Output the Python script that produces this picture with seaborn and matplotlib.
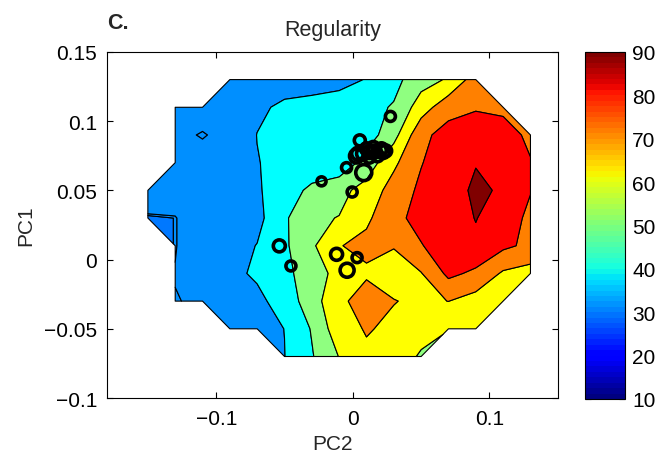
import numpy as np
import matplotlib
matplotlib.use("Agg")
import matplotlib.pyplot as plt
import seaborn as sns
from matplotlib.colors import Normalize
from matplotlib.cm import ScalarMappable
from matplotlib.ticker import FuncFormatter

# --- grid of the smoothed map (PC2 across, PC1 up) ---
pc2_grid = [-0.15, -0.13, -0.11, -0.09, -0.07, -0.05, -0.03, -0.01,
            0.01, 0.03, 0.05, 0.07, 0.09, 0.11, 0.13]
pc1_grid = [-0.07, -0.05, -0.03, -0.01, 0.01, 0.03, 0.05, 0.07, 0.09, 0.11, 0.13]

nan = np.nan
# one row per PC1 value, bottom to top; nan = outside the sampled area
regularity = [
    [nan, nan, nan, nan, nan, 39.8, 49.2, 60.3, 68.3, 69.0, 58.0, nan, nan, nan, nan],
    [nan, nan, nan, 33.0, 36.0, 40.1, 50.7, 66.2, 70.7, 68.2, 66.0, 60.5, 63.0, nan, nan],
    [nan, 29.2, 30.5, 36.0, 38.0, 43.5, 56.0, 67.0, 76.0, 70.3, 68.4, 70.1, 65.9, 64.0, nan],
    [nan, 29.8, 34.0, 38.0, 41.2, 48.0, 53.9, 64.1, 68.2, 66.0, 69.5, 82.25, 78.0, 68.6, 66.0],
    [nan, 29.05, 36.0, 36.0, 40.3, 48.3, 58.4, 69.5, 73.0, 70.5, 79.6, 84.0, 87.9, 82.0, 77.8],
    [28.3, 29.05, 36.0, 35.5, 37.0, 48.5, 58.5, 60.3, 68.0, 78.0, 82.4, 84.0, 90.4, 84.0, 78.3],
    [36.0, 35.0, 34.0, 36.0, 39.0, 44.5, 52.5, 57.0, 63.7, 74.2, 81.9, 87.0, 91.2, 89.2, 80.3],
    [nan, 30.5, 32.0, 35.0, 39.6, 43.0, 42.5, 42.5, 54.2, 68.0, 79.5, 86.0, 89.7, 86.0, 80.5],
    [nan, 31.0, 29.05, 31.5, 40.2, 42.0, 43.0, 44.0, 45.0, 56.4, 77.7, 83.5, 86.0, 84.0, 78.0],
    [nan, 32.0, 32.5, 34.0, 38.0, 42.0, 43.0, 44.5, 47.0, 50.8, 65.0, 76.6, 79.0, 78.0, nan],
    [nan, nan, nan, 33.0, 34.0, 35.0, 36.0, 37.0, 40.4, 47.0, 56.0, 61.0, 75.0, nan, nan],
]

# --- individual samples (circles) ---
pc2_pts = [0.0275, 0.0051, 0.0027, 0.0039, 0.0075, 0.0124, 0.0160, 0.0197, 0.0221,
           0.0100, 0.0150, 0.0210, 0.0180, 0.0120, 0.0240,
           -0.0046, 0.0080, -0.0229, -0.0005, -0.0538, -0.0453, -0.0119, 0.0031, -0.0042]
pc1_pts = [0.1034, 0.0861, 0.0748, 0.0765, 0.0765, 0.0777, 0.0781, 0.0789, 0.0777,
           0.0800, 0.0810, 0.0800, 0.0750, 0.0740, 0.0785,
           0.0664, 0.0628, 0.0565, 0.0488, 0.0099, -0.0046, 0.0038, 0.0014, -0.0077]
pt_diam = [10, 11, 14, 13, 13, 13, 13, 13, 13, 12, 12, 12, 12, 12, 12,
           10, 16, 9, 10, 12, 10, 12, 10, 14]

levels = [0, 29, 29.5, 40, 50, 60, 70, 80, 90, 100]
band_colors = ['#0078ff', '#008fff', '#008fff', '#00ffff', '#8fff80',
               '#ffff00', '#ff8000', '#ff0000', '#800000']

sns.set_theme(style="ticks")
plt.rcParams['font.family'] = ['Liberation Sans', 'DejaVu Sans']
plt.rcParams['axes.edgecolor'] = 'black'
plt.rcParams['xtick.color'] = 'black'
plt.rcParams['ytick.color'] = 'black'

fig = plt.figure(figsize=(6.68, 4.64), dpi=100)
ax = fig.add_axes([0.160, 0.140, 0.675, 0.746])

Z = np.ma.masked_invalid(np.array(regularity))
cs = ax.contourf(pc2_grid, pc1_grid, Z, levels=levels, colors=band_colors)
cs.set_edgecolor('black')
cs.set_linewidth(0.8)
cs.set_antialiased(True)

sizes = [(d * 0.72) ** 2 for d in pt_diam]
sns.scatterplot(x=pc2_pts, y=pc1_pts, s=sizes, color='black', facecolor='none',
                edgecolor='black', linewidth=2.6, legend=False, ax=ax, zorder=3)

ax.set_xlim(-0.18, 0.15)
ax.set_ylim(-0.1, 0.15)
ax.set_xticks([-0.1, 0, 0.1])
ax.set_yticks([-0.1, -0.05, 0, 0.05, 0.1, 0.15])


def fmt(v, _):
    if abs(v) < 1e-9:
        return '0'
    return f"{round(v, 3):g}".replace('-', '\u2212')


ax.xaxis.set_major_formatter(FuncFormatter(fmt))
ax.yaxis.set_major_formatter(FuncFormatter(fmt))
ax.tick_params(direction='in', top=True, right=True, length=4, width=0.8, labelsize=15)
ax.tick_params(axis='x', pad=8)
ax.tick_params(axis='y', pad=7)
for sp in ax.spines.values():
    sp.set_visible(True)
    sp.set_linewidth(0.8)

ax.set_xlabel('PC2', fontsize=15, labelpad=4)
ax.set_ylabel('PC1', fontsize=15, labelpad=6)
ax.set_title('Regularity', fontsize=15.5, pad=12)
fig.text(0.160, 1 - 29 / 464, 'C.', fontsize=15.5, fontweight='bold', ha='left', va='baseline')

# --- colorbar ---
cax = fig.add_axes([0.876, 0.138, 0.060, 0.748])
sm = ScalarMappable(norm=Normalize(10, 90), cmap=plt.get_cmap('jet', 64))
cb = fig.colorbar(sm, cax=cax, ticks=list(range(10, 100, 10)))
cb.outline.set_edgecolor('black')
cb.outline.set_linewidth(0.8)
cax.tick_params(direction='in', left=True, right=True, length=4, width=0.8, labelsize=15, pad=5)

fig.savefig('out.png', dpi=100)
